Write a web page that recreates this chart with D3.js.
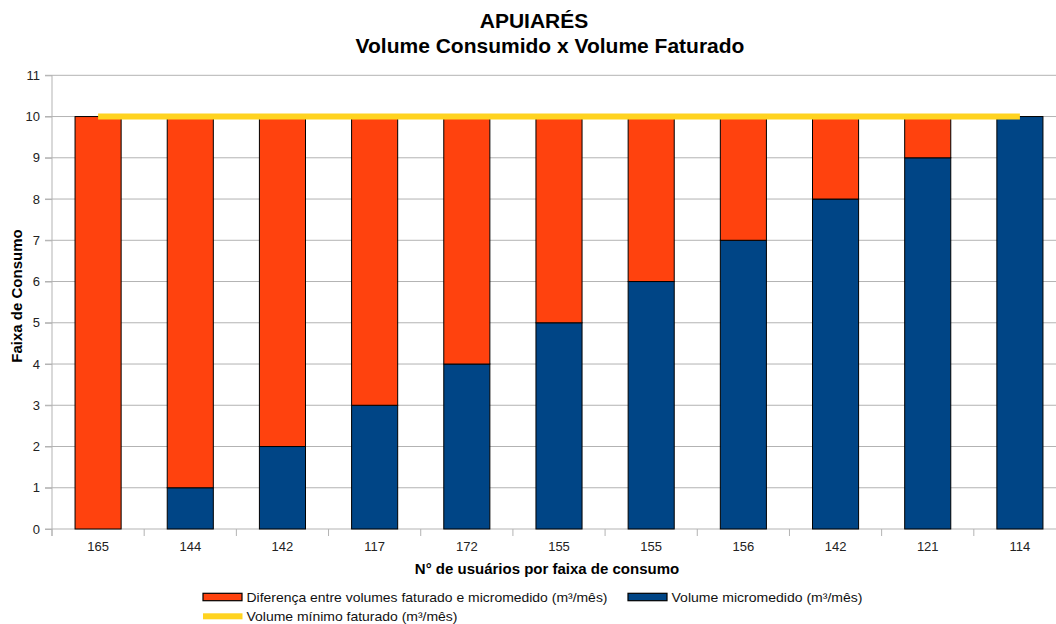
<!DOCTYPE html>
<html>
<head>
<meta charset="utf-8">
<script src="https://cdn.jsdelivr.net/npm/d3@7"></script>
<style>
  body { margin: 0; background: #fff; }
  text { font-family: "Liberation Sans", Arial, sans-serif; fill: #000; }
  .tick text { font-size: 13px; fill: #222; }
  .title { font-size: 21px; font-weight: bold; }
  .axisTitle { font-size: 15px; font-weight: bold; }
  .legend text { font-size: 13.5px; fill: #111; }
</style>
</head>
<body>
<div class="chart"></div>
<script>
var width = 1056
var height = 624

// data
var categories = ["165", "144", "142", "117", "172", "155", "155", "156", "142", "121", "114"]
var micromedido = [0, 1, 2, 3, 4, 5, 6, 7, 8, 9, 10]
var diferenca = [10, 9, 8, 7, 6, 5, 4, 3, 2, 1, 0]
var minimoFaturado = [10, 10, 10, 10, 10, 10, 10, 10, 10, 10, 10]
var yTicks = [0, 1, 2, 3, 4, 5, 6, 7, 8, 9, 10, 11]

var orange = "#ff420e"
var blue = "#004586"
var yellow = "#ffd320"
var grid = "#b3b3b3"

var margin = {left: 52, top: 75.3, right: 1066, bottom: 529}

var svg = d3.select(".chart").append("svg")
            .attr("width", width)
            .attr("height", height)

var x = d3.scaleBand()
          .domain(d3.range(categories.length))
          .range([margin.left, margin.right])

var y = d3.scaleLinear()
          .domain([0, 11])
          .range([margin.bottom, margin.top])

// horizontal grid
svg.append("g").selectAll("line")
   .data(yTicks)
   .enter()
   .append("line")
   .attr("x1", margin.left - 7)
   .attr("x2", margin.right)
   .attr("y1", function(d) { return y(d); })
   .attr("y2", function(d) { return y(d); })
   .attr("stroke", grid)
   .attr("stroke-width", 1)

// y axis
var yAxis = svg.append("g")
               .attr("transform", "translate(" + margin.left + ",0)")
               .call(d3.axisLeft(y).tickValues(yTicks).tickSize(7).tickPadding(5))
yAxis.select(".domain").attr("stroke", grid).attr("d", "M0," + y(11) + "V" + (margin.bottom + 7))
yAxis.selectAll(".tick line").attr("stroke", grid)

// x axis: ticks sit between the categories
var xAxis = svg.append("g")
               .attr("transform", "translate(0," + margin.bottom + ")")
               .call(d3.axisBottom(x).tickSize(0).tickPadding(13)
                       .tickFormat(function(i) { return categories[i]; }))
xAxis.select(".domain").remove()

svg.append("g").selectAll("line")
   .data(d3.range(categories.length + 1))
   .enter()
   .append("line")
   .attr("x1", function(i) { return margin.left + i * x.step(); })
   .attr("x2", function(i) { return margin.left + i * x.step(); })
   .attr("y1", margin.bottom)
   .attr("y2", margin.bottom + 7)
   .attr("stroke", grid)

// stacked bars
var rows = categories.map(function(c, i) {
  return {i: i, micromedido: micromedido[i], diferenca: diferenca[i]}
})
var stack = d3.stack().keys(["micromedido", "diferenca"])(rows)
var colors = {micromedido: blue, diferenca: orange}

var barW = x.bandwidth() / 2
svg.append("g").selectAll("g")
   .data(stack)
   .enter()
   .append("g")
   .attr("fill", function(s) { return colors[s.key]; })
   .selectAll("rect")
   .data(function(s) { return s; })
   .enter()
   .append("rect")
   .attr("x", function(d) { return x(d.data.i) + (x.bandwidth() - barW) / 2; })
   .attr("width", barW)
   .attr("y", function(d) { return y(d[1]); })
   .attr("height", function(d) { return y(d[0]) - y(d[1]); })
   .attr("stroke", "#000")
   .attr("stroke-width", 1)

// minimum billed volume line
var line = d3.line()
             .x(function(d, i) { return x(i) + x.bandwidth() / 2; })
             .y(function(d) { return y(d); })

svg.append("path")
   .datum(minimoFaturado)
   .attr("d", line)
   .attr("fill", "none")
   .attr("stroke", yellow)
   .attr("stroke-width", 6)

// titles
svg.append("text").attr("class", "title")
   .attr("x", 534).attr("y", 28)
   .attr("text-anchor", "middle")
   .text("APUIARÉS")
svg.append("text").attr("class", "title")
   .attr("x", 550).attr("y", 53)
   .attr("text-anchor", "middle")
   .text("Volume Consumido x Volume Faturado")

svg.append("text").attr("class", "axisTitle")
   .attr("x", 547).attr("y", 574)
   .attr("text-anchor", "middle")
   .text("N° de usuários por faixa de consumo")

svg.append("text").attr("class", "axisTitle")
   .attr("transform", "translate(22,296) rotate(-90)")
   .attr("text-anchor", "middle")
   .text("Faixa de Consumo")

// legend
var legendItems = [
  {label: "Diferença entre volumes faturado e micromedido (m³/mês)", color: orange, type: "box", x: 203, y: 597, w: 361},
  {label: "Volume micromedido (m³/mês)", color: blue, type: "box", x: 628, y: 597, w: 191},
  {label: "Volume mínimo faturado (m³/mês)", color: yellow, type: "line", x: 203, y: 616.3, w: 211}
]

var legend = svg.append("g").attr("class", "legend")
var item = legend.selectAll("g")
                 .data(legendItems)
                 .enter()
                 .append("g")
                 .attr("transform", function(d) { return "translate(" + d.x + "," + d.y + ")"; })

item.filter(function(d) { return d.type == "box"; })
    .append("rect")
    .attr("x", 0).attr("y", -3.7)
    .attr("width", 39).attr("height", 7.4)
    .attr("fill", function(d) { return d.color; })
    .attr("stroke", "#000")
    .attr("stroke-width", 1.2)

item.filter(function(d) { return d.type == "line"; })
    .append("rect")
    .attr("x", 0).attr("y", -3)
    .attr("width", 39.5).attr("height", 6)
    .attr("fill", function(d) { return d.color; })

item.append("text")
    .attr("x", 43.5).attr("y", 4.5)
    .attr("textLength", function(d) { return d.w; })
    .attr("lengthAdjust", "spacingAndGlyphs")
    .text(function(d) { return d.label; })
</script>
</body>
</html>
